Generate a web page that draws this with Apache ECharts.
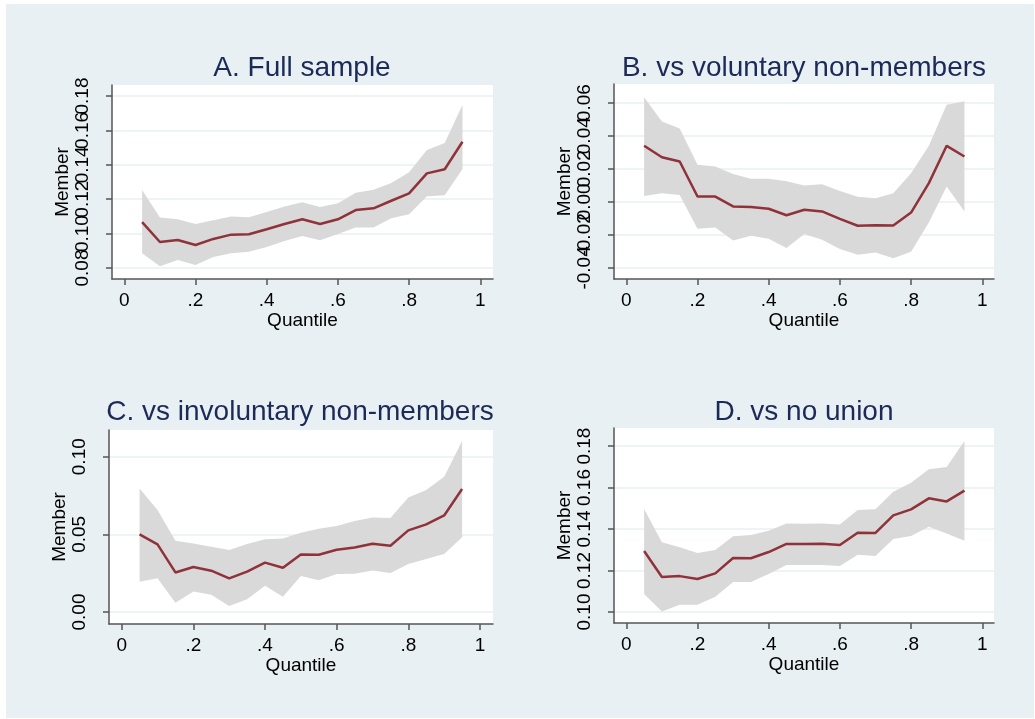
<!DOCTYPE html>
<html>
<head>
<meta charset="utf-8">
<title>Quantile estimates</title>
<script src="https://cdn.jsdelivr.net/npm/echarts@6/dist/echarts.min.js"></script>
<style>
html, body { margin: 0; padding: 0; background: #fff; }
#bg { position: absolute; left: 6px; top: 4px; width: 1028px; height: 714px; background: #e8f0f3; }
#main { position: absolute; left: 0; top: 0; width: 1035px; height: 719px; }
</style>
</head>
<body>
<div id="bg"></div>
<div id="main"></div>
<script>
// quantiles on the x axis
var quantiles = [0.05, 0.10, 0.15, 0.20, 0.25, 0.30, 0.35, 0.40, 0.45, 0.50,
                 0.55, 0.60, 0.65, 0.70, 0.75, 0.80, 0.85, 0.90, 0.95];
var xTicks = [0, 0.2, 0.4, 0.6, 0.8, 1];
var xTickLabels = ['0', '.2', '.4', '.6', '.8', '1'];

// A. Full sample
var fullEst = [0.1067, 0.0951, 0.0963, 0.0934, 0.0969, 0.0994, 0.0996, 0.1025, 0.1056, 0.1083,
               0.1056, 0.1083, 0.1137, 0.1147, 0.1191, 0.1234, 0.1350, 0.1374, 0.1534];
var fullHi = [0.1253, 0.1093, 0.1083, 0.1056, 0.1077, 0.1100, 0.1095, 0.1126, 0.1157, 0.1182,
              0.1155, 0.1176, 0.1238, 0.1255, 0.1294, 0.1356, 0.1486, 0.1527, 0.1748];
var fullLo = [0.0885, 0.0810, 0.0847, 0.0817, 0.0864, 0.0885, 0.0895, 0.0922, 0.0957, 0.0986,
              0.0961, 0.0998, 0.1036, 0.1036, 0.1089, 0.1112, 0.1217, 0.1223, 0.1376];
var fullTicks = [0.08, 0.10, 0.12, 0.14, 0.16, 0.18];

// B. vs voluntary non-members
var volEst = [0.0339, 0.0270, 0.0244, 0.0032, 0.0032, -0.0028, -0.0032, -0.0042, -0.0081, -0.0048,
              -0.0058, -0.0103, -0.0145, -0.0141, -0.0143, -0.0065, 0.0113, 0.0339, 0.0274];
var volHi = [0.0633, 0.0486, 0.0444, 0.0224, 0.0214, 0.0169, 0.0139, 0.0139, 0.0125, 0.0099,
             0.0107, 0.0065, 0.0030, 0.0022, 0.0052, 0.0173, 0.0339, 0.0587, 0.0609];
var volLo = [0.0036, 0.0052, 0.0042, -0.0163, -0.0155, -0.0234, -0.0206, -0.0224, -0.0280, -0.0194,
             -0.0230, -0.0286, -0.0321, -0.0306, -0.0341, -0.0302, -0.0125, 0.0093, -0.0058];
var volTicks = [-0.04, -0.02, 0.00, 0.02, 0.04, 0.06];

// C. vs involuntary non-members
var invEst = [0.0500, 0.0436, 0.0255, 0.0290, 0.0266, 0.0217, 0.0260, 0.0318, 0.0285, 0.0371,
              0.0369, 0.0401, 0.0416, 0.0440, 0.0427, 0.0526, 0.0564, 0.0622, 0.0792];
var invHi = [0.0796, 0.0657, 0.0459, 0.0442, 0.0421, 0.0399, 0.0438, 0.0468, 0.0474, 0.0511,
             0.0536, 0.0554, 0.0586, 0.0609, 0.0605, 0.0738, 0.0785, 0.0871, 0.1101];
var invLo = [0.0195, 0.0217, 0.0060, 0.0133, 0.0112, 0.0039, 0.0082, 0.0170, 0.0099, 0.0232,
             0.0204, 0.0245, 0.0247, 0.0268, 0.0251, 0.0309, 0.0341, 0.0373, 0.0481];
var invTicks = [0.00, 0.05, 0.10];

// D. vs no union
var noUnionEst = [0.1294, 0.1169, 0.1173, 0.1159, 0.1186, 0.1260, 0.1259, 0.1289, 0.1328, 0.1328,
                  0.1329, 0.1323, 0.1382, 0.1381, 0.1466, 0.1495, 0.1548, 0.1533, 0.1585];
var noUnionHi = [0.1496, 0.1336, 0.1312, 0.1284, 0.1299, 0.1365, 0.1371, 0.1392, 0.1427, 0.1426,
                 0.1427, 0.1422, 0.1492, 0.1495, 0.1580, 0.1623, 0.1688, 0.1699, 0.1824];
var noUnionLo = [0.1087, 0.1002, 0.1035, 0.1035, 0.1074, 0.1145, 0.1145, 0.1183, 0.1227, 0.1227,
                 0.1227, 0.1222, 0.1276, 0.1270, 0.1352, 0.1366, 0.1411, 0.1379, 0.1344];
var noUnionTicks = [0.10, 0.12, 0.14, 0.16, 0.18];

var titles = ['A. Full sample', 'B. vs voluntary non-members',
              'C. vs involuntary non-members', 'D. vs no union'];

var panels = [
  { est: fullEst, lo: fullLo, hi: fullHi, ticks: fullTicks,
    left: 112, top: 85, width: 381, height: 194, xMin: -0.0346, xMax: 1.0357, yMin: 0.0736, yMax: 0.1864, titleX: 302, titleY: 54 },
  { est: volEst, lo: volLo, hi: volHi, ticks: volTicks,
    left: 614, top: 84, width: 380, height: 195, xMin: -0.0346, xMax: 1.033, yMin: -0.0467, yMax: 0.0713, titleX: 804, titleY: 54 },
  { est: invEst, lo: invLo, hi: invHi, ticks: invTicks,
    left: 109, top: 430, width: 384, height: 194, xMin: -0.0354, xMax: 1.0363, yMin: -0.0077, yMax: 0.1172, titleX: 300, titleY: 398 },
  { est: noUnionEst, lo: noUnionLo, hi: noUnionHi, ticks: noUnionTicks,
    left: 614, top: 428, width: 380, height: 195, xMin: -0.0346, xMax: 1.033, yMin: 0.0947, yMax: 0.1887, titleX: 804, titleY: 398 }
];

var axisColor = '#555555';
var font = '"Liberation Sans", Arial, sans-serif';

var option = {
  backgroundColor: 'transparent',
  animation: false,
  title: [],
  grid: [],
  xAxis: [],
  yAxis: [],
  series: []
};

function yLabel(values) {
  return {
    customValues: values, rotate: 90, margin: 20, fontFamily: font, fontSize: 19, color: '#000',
    showMinLabel: true, showMaxLabel: true, hideOverlap: false,
    formatter: function (v) { return v.toFixed(2); }
  };
}

panels.forEach(function (p, i) {
  // Stata lets the y labels run into each other; split them over two
  // axes so ECharts does not drop the overlapping ones
  var evenTicks = p.ticks.filter(function (t, k) { return k % 2 === 0; });
  var oddTicks = p.ticks.filter(function (t, k) { return k % 2 === 1; });

  option.title.push({
    text: titles[i],
    left: p.titleX,
    top: p.titleY,
    textAlign: 'center',
    padding: 0,
    textStyle: { fontFamily: font, fontSize: 28, fontWeight: 'normal', color: '#1c2a57' }
  });
  option.grid.push({
    left: p.left, top: p.top, width: p.width, height: p.height,
    show: true, backgroundColor: '#ffffff', borderWidth: 0
  });
  option.xAxis.push({
    type: 'value', gridIndex: i, min: p.xMin, max: p.xMax,
    name: 'Quantile', nameLocation: 'middle', nameGap: 31,
    nameTextStyle: { fontFamily: font, fontSize: 19, color: '#000' },
    axisLine: { show: true, onZero: false, lineStyle: { color: axisColor, width: 1.5 } },
    axisTick: { show: true, length: 6, customValues: xTicks, lineStyle: { color: axisColor, width: 1.5 } },
    axisLabel: {
      customValues: xTicks, margin: 12, fontFamily: font, fontSize: 19, color: '#000',
      showMinLabel: true, showMaxLabel: true, hideOverlap: false,
      formatter: function (v) { return xTickLabels[xTicks.indexOf(Math.round(v * 10) / 10)]; }
    },
    splitLine: { show: false }
  });
  option.yAxis.push({
    type: 'value', gridIndex: i, min: p.yMin, max: p.yMax,
    name: 'Member', nameLocation: 'middle', nameGap: 36,
    nameTextStyle: { fontFamily: font, fontSize: 19, color: '#000' },
    axisLine: { show: true, onZero: false, lineStyle: { color: axisColor, width: 1.5 } },
    axisTick: { show: true, length: 6, customValues: p.ticks, lineStyle: { color: axisColor, width: 1.5 } },
    axisLabel: yLabel(evenTicks),
    splitLine: { show: true, lineStyle: { color: '#e8f0f3', width: 1.5 } }
  });
  var yIdx = option.yAxis.length - 1;
  option.yAxis.push({
    type: 'value', gridIndex: i, min: p.yMin, max: p.yMax, position: 'left', offset: 0,
    axisLine: { show: false }, axisTick: { show: false }, splitLine: { show: false },
    axisLabel: yLabel(oddTicks)
  });

  // confidence band as one polygon through the axis scales
  var bandData = quantiles.map(function (q, k) { return [q, p.lo[k], p.hi[k]]; });
  option.series.push({
    type: 'custom',
    xAxisIndex: i, yAxisIndex: yIdx,
    data: bandData,
    encode: { x: 0, y: [1, 2] },
    silent: true,
    renderItem: function (params, api) {
      if (params.dataIndex !== 0) return;
      var pts = [];
      for (var k = 0; k < bandData.length; k++) pts.push(api.coord([bandData[k][0], bandData[k][2]]));
      for (var k2 = bandData.length - 1; k2 >= 0; k2--) pts.push(api.coord([bandData[k2][0], bandData[k2][1]]));
      return { type: 'polygon', shape: { points: pts }, style: { fill: '#d9d9d9' } };
    },
    z: 1
  });
  option.series.push({
    type: 'line',
    xAxisIndex: i, yAxisIndex: yIdx,
    data: quantiles.map(function (q, k) { return [q, p.est[k]]; }),
    showSymbol: false,
    lineStyle: { color: '#8f323a', width: 2.5 },
    z: 3
  });
});

var chart = echarts.init(document.getElementById('main'), null, { renderer: 'canvas' });
chart.setOption(option);
</script>
</body>
</html>
